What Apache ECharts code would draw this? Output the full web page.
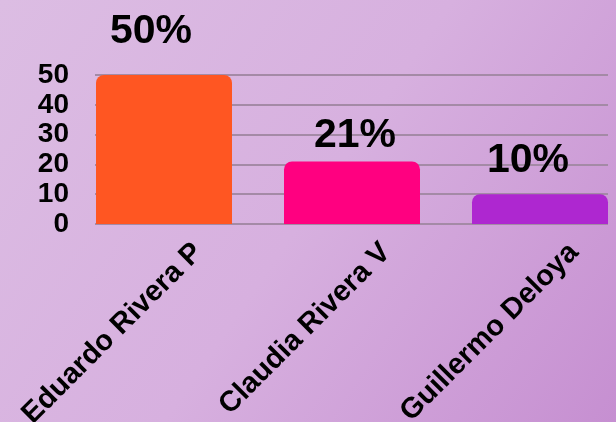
<!DOCTYPE html>
<html>
<head>
    <meta charset="UTF-8">
    <title>Resultados</title>
    <script src="https://cdn.jsdelivr.net/npm/echarts@6/dist/echarts.min.js"></script>
    <style type="text/css">
      body{
        margin: 0;
        padding: 0;
      }
    </style>
</head>
<body>
<div id="chart" style="width:616px;height:422px;"></div>
<script type="text/javascript">
    // datos
    var candidatos = ['Eduardo Rivera P', 'Claudia Rivera V', 'Guillermo Deloya'];
    var porcentajes = [50, 21, 10];
    var colores = ['#ff5622', '#ff0080', '#ae27d0'];
    var ticksY = [0, 10, 20, 30, 40, 50];

    // ajuste de las etiquetas de porcentaje (no centradas en el original)
    var ajusteEtiqueta = [[-13, -18], [3, 0], [-12, -8]];

    var chart = echarts.init(document.getElementById('chart'));

    var barras = porcentajes.map(function (v, i) {
        return {
            value: v,
            itemStyle: { color: colores[i] },
            label: { offset: ajusteEtiqueta[i] }
        };
    });

    var option = {
        backgroundColor: {
            type: 'linear', x: 0, y: 0, x2: 1, y2: 1,
            colorStops: [
                { offset: 0, color: '#dcbde3' },
                { offset: 0.5, color: '#d7b0df' },
                { offset: 1, color: '#c68fd1' }
            ]
        },
        textStyle: { fontFamily: 'Liberation Sans' },
        grid: [
            { left: 70, width: 564, top: 75, bottom: 198, outerBoundsMode: 'none', containLabel: false },   // barras
            { left: 95, width: 513, top: 75, bottom: 198, outerBoundsMode: 'none', containLabel: false },   // lineas y eje Y
            { left: 104, width: 564, top: 75, bottom: 198, outerBoundsMode: 'none', containLabel: false }   // nombres
        ],
        xAxis: [
            { gridIndex: 0, type: 'category', data: candidatos, show: false },
            { gridIndex: 1, type: 'category', data: candidatos, show: false },
            {
                gridIndex: 2, type: 'category', data: candidatos,
                axisLine: { show: false }, axisTick: { show: false },
                axisLabel: {
                    interval: 0, rotate: 45, margin: 24,
                    color: '#000', fontSize: 29, fontWeight: 'bold'
                }
            }
        ],
        yAxis: [
            { gridIndex: 0, type: 'value', min: 0, max: 50, interval: 10, show: false },
            {
                gridIndex: 1, type: 'value', min: ticksY[0], max: ticksY[ticksY.length - 1], interval: 10,
                axisLine: { show: false }, axisTick: { show: false },
                splitLine: { lineStyle: { color: '#a48aa6', width: 2 } },
                axisLabel: { margin: 26, color: '#000', fontSize: 28, fontWeight: 'bold' }
            },
            { gridIndex: 2, type: 'value', min: 0, max: 50, show: false }
        ],
        series: [{
            type: 'bar',
            xAxisIndex: 0,
            yAxisIndex: 0,
            barWidth: 136,
            data: barras,
            itemStyle: { borderRadius: [8, 8, 0, 0] },
            label: {
                show: true,
                position: 'top',
                distance: 5,
                formatter: '{c}%',
                color: '#000',
                fontSize: 41,
                fontWeight: 'bold'
            }
        }]
    };

    chart.setOption(option);
</script>
</body>
</html>
